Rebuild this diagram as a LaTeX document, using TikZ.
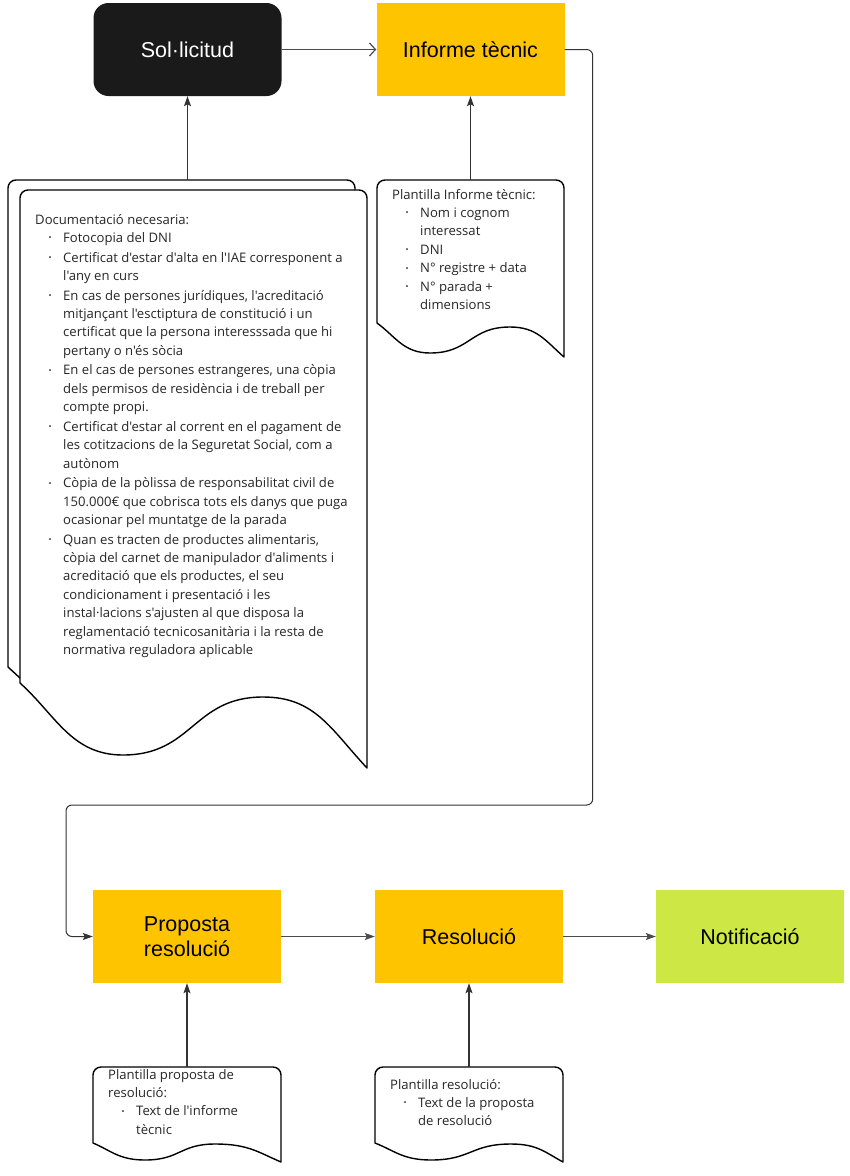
\documentclass[tikz,border=0pt]{standalone}
\usepackage{fontspec}
\setmainfont{Liberation Sans}
\newfontfamily\osans{Open Sans}
\usetikzlibrary{arrows.meta}
\definecolor{ybox}{HTML}{FFC400}
\definecolor{gbox}{HTML}{CDE845}
\definecolor{bbox}{HTML}{1A1A1A}
\definecolor{conn}{HTML}{333333}
\newcommand\bul{\raisebox{0.22ex}{\fontsize{8}{8}\selectfont\textbullet}}
\newcommand\bi{\makebox[28pt][l]{\hspace*{13.5pt}\bul}}
\newcommand\ci{\hspace*{28pt}}
\newcommand\docshape[9]{%
 \draw[docline] ({#1},{#4}) -- ({#1},{#2+8}) arc[start angle=180,end angle=270,radius=8]
 -- ({#3-8},{#2}) arc[start angle=270,end angle=360,radius=8] -- ({#3},{#9})
 .. controls ({#3-0.35*(#3-#7)},{#8+0.45*(#9-#8)}) and ({(#3+#7)/2},{#8}) .. ({#7},{#8})
 .. controls ({(#7+#5)/2},{#8}) and ({(#7+#5)/2},{#6}) .. ({#5},{#6})
 .. controls ({(#5+#1)/2},{#6}) and ({#1+0.35*(#5-#1)},{#4+0.45*(#6-#4)}) .. ({#1},{#4}) -- cycle;}
\tikzset{
 box/.style={minimum width=188, minimum height=93, inner sep=0, font=\fontsize{21.5}{25}\selectfont, align=center},
 docline/.style={draw=black, fill=white, line width=1.4, line join=round},
 doctext/.style={anchor=base west, inner sep=0, font=\osans\fontsize{13.1}{18.4}\selectfont, text=black!85},
 conn/.style={draw=conn, line width=1},
 upar/.style={draw=conn, line width=1.3, -{Stealth[length=10,width=7,inset=2]}},
 anch/.style={anchor=north, minimum height=8, inner sep=0}
}
\begin{document}
\begin{tikzpicture}[x=1pt,y=-1pt]
\useasboundingbox[fill=white] (0,0) rectangle (850,1176);
% boxes
\node[box, fill=bbox, rounded corners=15, text=white] (sol) at (187.5,49.5) {Sol·licitud};
\node[box, fill=ybox] (inf) at (470.5,49.5) {Informe tècnic};
\node[box, fill=ybox] (prop) at (187,936.5) {Proposta\\resolució};
\node[box, fill=ybox] (res) at (469,936.5) {Resolució};
\node[box, fill=gbox] (notif) at (750,936.5) {Notificació};
% big multi-document
\draw[docline] (20,678) -- (8,667) -- (8,188) arc[start angle=180,end angle=270,radius=8]
 -- (347,180) arc[start angle=270,end angle=360,radius=8] -- (355,191);
\docshape{20}{190}{367}{683}{123}{755}{263}{697}{768}
\node[anch, minimum width=359] (docS) at (187.5,180) {};
\node[doctext] (txtS) at (35,224) {\begin{tabular}[t]{@{}l@{}}
Documentació necesaria:\\
\bi Fotocopia del DNI\\[1.2pt]
\bi Certificat d'estar d'alta en l'IAE corresponent a\\
\ci l'any en curs\\[1.2pt]
\bi En cas de persones jurídiques, l'acreditació\\
\ci mitjançant l'esctiptura de constitució i un\\
\ci certificat que la persona interesssada que hi\\
\ci pertany o n'és sòcia\\[1.2pt]
\bi En el cas de persones estrangeres, una còpia\\
\ci dels permisos de residència i de treball per\\
\ci compte propi.\\[1.2pt]
\bi Certificat d'estar al corrent en el pagament de\\
\ci les cotitzacions de la Seguretat Social, com a\\
\ci autònom\\[1.2pt]
\bi Còpia de la pòlissa de responsabilitat civil de\\
\ci 150.000€ que cobrisca tots els danys que puga\\
\ci ocasionar pel muntatge de la parada\\[1.2pt]
\bi Quan es tracten de productes alimentaris,\\
\ci còpia del carnet de manipulador d'aliments i\\
\ci acreditació que els productes, el seu\\
\ci condicionament i presentació i les\\
\ci instal·lacions s'ajusten al que disposa la\\
\ci reglamentació tecnicosanitària i la resta de\\
\ci normativa reguladora aplicable
\end{tabular}};
% informe template
\docshape{377}{180}{564}{323}{430}{353}{510}{327}{357}
\node[anch, minimum width=187] (docI) at (470.5,180) {};
\node[doctext] (txtI) at (392,199) {\begin{tabular}[t]{@{}l@{}}
Plantilla Informe tècnic:\\
\bi Nom i cognom\\
\ci interessat\\
\bi DNI\\
\bi N° registre + data\\
\bi N° parada +\\
\ci dimensions
\end{tabular}};
% proposta template
\docshape{93}{1067}{281}{1143}{145}{1160}{215}{1144}{1162}
\node[anch, minimum width=188] (docP) at (187,1067) {};
\node[doctext] (txtP) at (108,1079) {\begin{tabular}[t]{@{}l@{}}
Plantilla proposta de\\
resolució:\\
\bi Text de l'informe\\
\ci tècnic
\end{tabular}};
% resolucio template
\docshape{375}{1067}{563}{1143}{431}{1160}{511}{1144}{1162}
\node[anch, minimum width=188] (docR) at (469,1067) {};
\node[doctext] (txtR) at (390,1089) {\begin{tabular}[t]{@{}l@{}}
Plantilla resolució:\\
\bi Text de la proposta\\
\ci de resolució
\end{tabular}};
% connectors
\draw[conn, draw=black!70, -{Straight Barb[length=6,width=13,line width=1.2]}] (sol.east) -- (inf.west);
\draw[conn, rounded corners=6, -{Stealth[length=10,width=7,inset=2]}] (inf.east) -- ++(28,0) |- (66,805) |- (prop.west);
\draw[conn, draw=black!70, -{Stealth[length=10,width=7,inset=2]}] (prop.east) -- (res.west);
\draw[conn, draw=black!70, -{Stealth[length=10,width=7,inset=2]}] (res.east) -- (notif.west);
\draw[upar] (docS.north) -- (sol.south);
\draw[upar] (docI.north) -- (inf.south);
\draw[upar] (docP.north) -- (prop.south);
\draw[upar] (docR.north) -- (res.south);
\end{tikzpicture}
\end{document}
